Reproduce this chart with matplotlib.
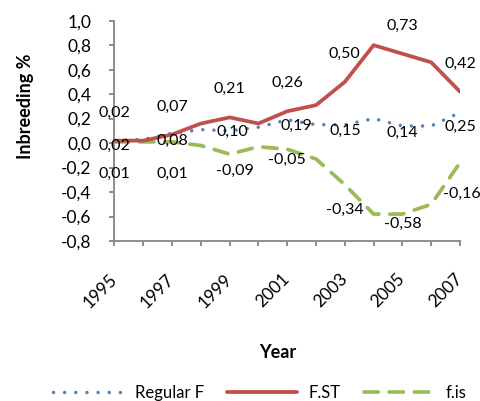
import numpy as np
import matplotlib
matplotlib.use("Agg")
import matplotlib.pyplot as plt
from matplotlib.ticker import FuncFormatter

plt.rcParams["font.family"] = ["Lato", "DejaVu Sans"]

# Data per tahun
years = [1995, 1996, 1997, 1998, 1999, 2000, 2001, 2002, 2003, 2004, 2005, 2006, 2007]
regular_f = [0.02, 0.03, 0.08, 0.11, 0.10, 0.13, 0.19, 0.15, 0.15, 0.20, 0.14, 0.14, 0.25]
f_st = [0.02, 0.02, 0.07, 0.16, 0.21, 0.16, 0.26, 0.31, 0.50, 0.80, 0.73, 0.66, 0.42]
f_is = [0.01, 0.01, 0.01, -0.02, -0.09, -0.03, -0.05, -0.13, -0.34, -0.58, -0.58, -0.50, -0.16]

# Label hanya pada tahun ganjil
label_idx = [0, 2, 4, 6, 8, 10, 12]

# Offset label (pixel, dx, dy ke bawah)
off_st = [(0, -28)] * 7
off_rf = [(0, 5), (0, 8), (3, 1), (9, 6), (0, 6), (0, 7), (0, 14)]
off_is = [(0, 32), (0, 32), (5, 17), (0, 11), (0, 25), (0, 10), (2, 31)]

BLUE = "#4F81BD"
RED = "#C0504D"
GREEN = "#9BBB59"
AXIS = "#868686"

fig = plt.figure(figsize=(4.81, 4.01), dpi=100)
ax = fig.add_axes([114.5 / 481, 1 - 241 / 401, (460 - 114.5) / 481, (241 - 20.7) / 401])

ax.plot(years, regular_f, color=BLUE, lw=2.5, linestyle=(0, (0.01, 3.2)),
        dash_capstyle="round", label="Regular F", zorder=3)
ax.plot(years, f_st, color=RED, lw=2.7, solid_capstyle="round",
        solid_joinstyle="round", label="F.ST", zorder=4)
ax.plot(years, f_is, color=GREEN, lw=2.7, linestyle=(0, (3.8, 2.9)),
        dash_capstyle="round", label="f.is", zorder=2)

def fmt(v):
    return f"{v:.2f}".replace(".", ",")

for series, offs in [(f_st, off_st), (regular_f, off_rf), (f_is, off_is)]:
    for i, (dx, dy) in zip(label_idx, offs):
        ax.annotate(fmt(series[i]), (years[i], series[i]), xytext=(dx, -dy),
                    textcoords="offset pixels", ha="center", va="center",
                    fontsize=11.5, color="black", zorder=5, annotation_clip=False)

ax.set_xlim(1995, 2007)
ax.set_ylim(-0.8, 1.0)
ax.set_yticks(np.arange(-0.8, 1.01, 0.2))
ax.yaxis.set_major_formatter(FuncFormatter(lambda v, p: f"{v:.1f}".replace(".", ",").replace("-0,0", "0,0")))
ax.set_xticks(years)
ax.set_xticklabels([str(y) if y % 2 == 1 else "" for y in years])

for s in ["top", "right"]:
    ax.spines[s].set_visible(False)
for s in ["left", "bottom"]:
    ax.spines[s].set_color(AXIS)
    ax.spines[s].set_linewidth(1.3)

ax.tick_params(axis="y", direction="out", length=3.6, width=1.3, color=AXIS,
               pad=13, labelsize=12.5)
ax.tick_params(axis="x", direction="out", length=3.6, width=1.3, color=AXIS,
               pad=22, labelsize=12.5)
for lbl in ax.get_xticklabels():
    lbl.set_rotation(45)
    lbl.set_ha("right")
    lbl.set_va("center")
    lbl.set_rotation_mode("anchor")

fig.text(25 / 481, 1 - 106.7 / 401, "Inbreeding %", rotation=90, ha="center",
         va="center", fontsize=13, fontweight="bold")
fig.text(278 / 481, 1 - 352 / 401, "Year", ha="center", va="center",
         fontsize=13, fontweight="bold")

fig.legend(loc="center", bbox_to_anchor=(260 / 481, 1 - 393 / 401), ncol=3,
           frameon=False, fontsize=12, handlelength=4.2, handletextpad=0.7,
           columnspacing=1.4)

fig.savefig("out.png", dpi=100)
